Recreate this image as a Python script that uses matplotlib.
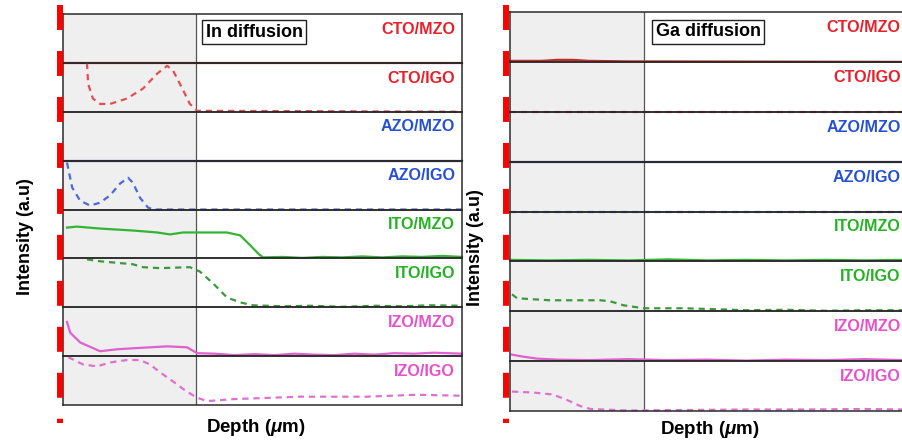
import matplotlib.pyplot as plt
from matplotlib.lines import Line2D

plt.rcParams['font.family'] = ['Liberation Sans', 'DejaVu Sans']
plt.rcParams['mathtext.fontset'] = 'custom'
plt.rcParams['mathtext.it'] = 'Liberation Sans:italic:bold'
plt.rcParams['mathtext.rm'] = 'Liberation Sans:bold'
plt.rcParams['lines.scale_dashes'] = False

# sample stacks, top to bottom
labels = ['CTO/MZO', 'CTO/IGO', 'AZO/MZO', 'AZO/IGO',
          'ITO/MZO', 'ITO/IGO', 'IZO/MZO', 'IZO/IGO']
label_colors = ['#e8202a', '#e8202a', '#2450d8', '#2450d8',
                '#22b322', '#22b322', '#e84fc9', '#e84fc9']
line_colors = ['#c82828', '#e05050', '#2a3f9a', '#4a6ad8',
               '#33b533', '#3a9a3a', '#e060d0', '#e070d0']
dashed = [False, True, False, True, False, True, False, True]

# In diffusion (depth in arbitrary units 0-100, intensity normalised per strip)
in_x = [
    [0, 100],
    [6.0, 6.3, 7.5, 9.3, 11.8, 16.0, 20.0, 23.6, 26.1, 27.6, 29.8, 31.8, 33.6, 100],
    [0, 100],
    [1.0, 2.3, 4.3, 6.8, 9.3, 11.8, 14.3, 16.3, 17.5, 19.3, 21.3, 22.6, 100],
    [1.0, 3.5, 9.3, 17.5, 23.6, 26.8, 30.1, 34.3, 41.1, 44.4, 46.9, 48.9, 50.1,
     55, 60, 65, 70, 75, 80, 85, 90, 95, 100],
    [6.0, 9.3, 17.5, 20.0, 24.3, 31.8, 34.3, 37.6, 41.1, 44.4, 47.6,
     55, 62, 70, 78, 85, 92, 100],
    [1.0, 1.8, 4.3, 9.3, 13.5, 17.5, 21.8, 26.1, 31.1, 33.6, 38, 43, 48, 53,
     58, 63, 68, 73, 78, 83, 88, 93, 100],
    [1.3, 5.0, 8.5, 11.8, 16.0, 19.3, 21.8, 24.3, 27.6, 31.1, 33.6, 36.1,
     42.6, 59.4, 76.2, 88.7, 99.5],
]
in_y = [
    [0, 0],
    [1.0, 0.57, 0.27, 0.16, 0.16, 0.27, 0.47, 0.78, 0.94, 0.84, 0.49, 0.16, 0.02, 0.0],
    [0, 0],
    [0.96, 0.45, 0.18, 0.08, 0.14, 0.29, 0.53, 0.65, 0.55, 0.24, 0.04, 0.0, 0.0],
    [0.63, 0.65, 0.61, 0.57, 0.53, 0.49, 0.53, 0.53, 0.53, 0.47, 0.27, 0.10, 0.02,
     0.03, 0.01, 0.03, 0.02, 0.04, 0.02, 0.04, 0.03, 0.05, 0.03],
    [0.98, 0.94, 0.88, 0.82, 0.80, 0.82, 0.73, 0.49, 0.20, 0.10, 0.04,
     0.02, 0.03, 0.01, 0.03, 0.02, 0.04, 0.03],
    [0.70, 0.48, 0.28, 0.10, 0.14, 0.16, 0.18, 0.20, 0.18, 0.06, 0.05, 0.02, 0.04,
     0.02, 0.05, 0.03, 0.02, 0.05, 0.03, 0.06, 0.05, 0.07, 0.05],
    [0.98, 0.83, 0.79, 0.87, 0.92, 0.92, 0.83, 0.67, 0.48, 0.27, 0.15, 0.08,
     0.12, 0.17, 0.17, 0.21, 0.19],
]

# Ga diffusion
ga_x = [
    [0, 8, 12, 16, 20, 30, 100],
    [0, 100],
    [0, 100],
    [0, 100],
    [0, 10, 20, 30, 40, 50, 60, 70, 80, 90, 100],
    [0.5, 1.8, 10.2, 22.9, 25.4, 28.8, 33.8, 44.0, 52.7, 60, 70, 80, 90, 100],
    [0.5, 3.3, 6.9, 12, 20, 30, 40, 50, 60, 70, 80, 90, 100],
    [0.5, 5.9, 10.9, 14.5, 17.8, 20.4, 30, 45, 60, 75, 90, 100],
]
ga_y = [
    [0.02, 0.02, 0.04, 0.04, 0.02, 0.01, 0.0],
    [0, 0],
    [0, 0],
    [0, 0],
    [0.03, 0.02, 0.03, 0.02, 0.04, 0.02, 0.03, 0.02, 0.03, 0.02, 0.03],
    [0.34, 0.26, 0.22, 0.22, 0.20, 0.12, 0.06, 0.06, 0.04, 0.02, 0.03, 0.01, 0.02, 0.02],
    [0.13, 0.09, 0.05, 0.03, 0.02, 0.04, 0.02, 0.03, 0.01, 0.03, 0.02, 0.04, 0.02],
    [0.39, 0.37, 0.33, 0.22, 0.10, 0.04, 0.01, 0.02, 0.03, 0.03, 0.04, 0.03],
]

titles = ['In diffusion', 'Ga diffusion']
shade_end = [33.4, 34.0]

W, H = 903, 445
fig = plt.figure(figsize=(W / 100, H / 100), dpi=100)

# panel rectangles in pixels: left, top, right, bottom
panels = [(63, 14, 462, 405), (510, 12, 904, 411)]
title_pos = [(0.358, 0.63), (0.37, 0.6)]
label_xpos = [0.983, 0.992]


def draw_panel(k, xs, ys):
    l, t, r, b = panels[k]
    fl, fb, fw, fh = l / W, 1 - b / H, (r - l) / W, (b - t) / H
    bg = fig.add_axes([fl, fb, fw, fh])
    bg.axvspan(0, shade_end[k], color='#efefef', lw=0)
    bg.axvline(shade_end[k], color='#555555', lw=0.9)
    bg.set_xlim(0, 100)
    bg.set_ylim(0, 1)
    bg.axis('off')
    n = len(labels)
    for i in range(n):
        ax = fig.add_axes([fl, fb + fh * (n - 1 - i) / n, fw, fh / n])
        ax.patch.set_alpha(0)
        ls = (0, (4.5, 3.5)) if dashed[i] else '-'
        ax.plot(xs[i], ys[i], color=line_colors[i], lw=1.6, ls=ls, clip_on=False)
        ax.set_xlim(0, 100)
        ax.set_ylim(0, 1)
        ax.set_xticks([])
        ax.set_yticks([])
        for s in ax.spines.values():
            s.set_color('#2a2a2a')
            s.set_linewidth(1.1)
        ax.text(label_xpos[k], 0.69, labels[i], transform=ax.transAxes,
                ha='right', va='center', color=label_colors[i],
                fontsize=11.6, fontweight='bold')
        if i == 0:
            ax.text(title_pos[k][0], title_pos[k][1], titles[k],
                    transform=ax.transAxes, ha='left', va='center',
                    fontsize=13, fontweight='bold',
                    bbox=dict(boxstyle='square,pad=0.2', fc='white',
                              ec='#222222', lw=1.0))
    # red dashed marks along the left edge
    xr = (l - 3.5) / W
    fig.add_artist(Line2D([xr, xr], [1 - 5 / H, 1 - 423 / H],
                          transform=fig.transFigure, color='#ff0000',
                          lw=4.3, dashes=(18, 15.1), solid_capstyle='butt'))


draw_panel(0, in_x, in_y)
draw_panel(1, ga_x, ga_y)

fig.text(26 / W, 1 - 237 / H, 'Intensity (a.u)', rotation=90, ha='center',
         va='center', fontsize=13, fontweight='bold')
fig.text(476 / W, 1 - 248 / H, 'Intensity (a.u)', rotation=90, ha='center',
         va='center', fontsize=13, fontweight='bold')
fig.text(256 / W, 1 - 428 / H, r'Depth ($\mu$m)', ha='center', va='center',
         fontsize=13.5, fontweight='bold')
fig.text(710 / W, 1 - 430 / H, r'Depth ($\mu$m)', ha='center', va='center',
         fontsize=13.5, fontweight='bold')

fig.savefig('out.png', dpi=100)
